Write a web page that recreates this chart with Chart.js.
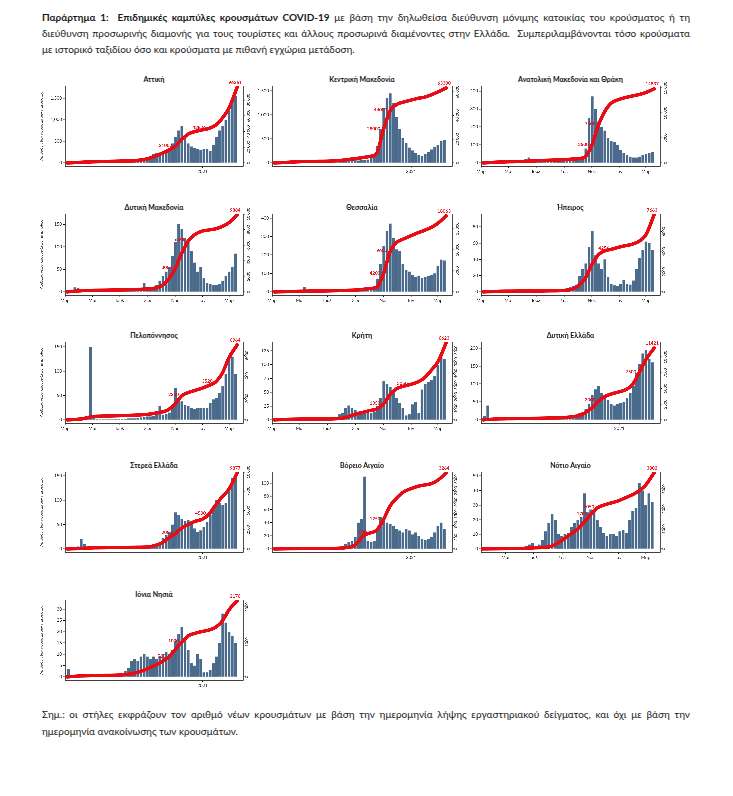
<!DOCTYPE html>
<html lang="el">
<head>
<meta charset="utf-8">
<script src="https://cdn.jsdelivr.net/npm/chart.js@4.4.1/dist/chart.umd.min.js"></script>
<style>
  body { margin: 0; background: #fff; font-family: Lato, "Open Sans", sans-serif; }
  #page { position: relative; width: 733px; height: 796px; overflow: hidden; }
  .txt { position: absolute; left: 42px; width: 648px; font-size: 10px; line-height: 16px; color: #1a1a1a; white-space: nowrap; }
  .just { text-align: justify; text-align-last: justify; }
  .ptitle { position: absolute; font-weight: 700; font-size: 7px; line-height: 10px; text-align: center; color: #111; white-space: nowrap; }
  canvas { position: absolute; }
</style>
</head>
<body>
<div id="page">
  <div class="txt just" style="top:9px"><b>Παράρτημα 1:&nbsp; Επιδημικές καμπύλες κρουσμάτων COVID-19</b> με βάση την δηλωθείσα διεύθυνση μόνιμης κατοικίας του κρούσματος ή τη</div>
  <div class="txt just" style="top:25px">διεύθυνση προσωρινής διαμονής για τους τουρίστες και άλλους προσωρινά διαμένοντες στην Ελλάδα.&nbsp; Συμπεριλαμβάνονται τόσο κρούσματα</div>
  <div class="txt" style="top:41px">με ιστορικό ταξιδίου όσο και κρούσματα με πιθανή εγχώρια μετάδοση.</div>
  <div class="txt just" style="top:706px">Σημ.: οι στήλες εκφράζουν τον αριθμό νέων κρουσμάτων με βάση την ημερομηνία λήψης εργαστηριακού δείγματος, και όχι με βάση την</div>
  <div class="txt" style="top:723px">ημερομηνία ανακοίνωσης των κρουσμάτων.</div>
</div>
<script>
// days counted from 1 March 2020; one bar per week (typical daily count that week)
var weekDays = [8,15,22,29,36,43,50,57,64,71,78,85,92,99,106,113,120,127,134,141,148,155,162,169,176,183,190,197,204,211,218,225,232,239,246,253,260,267,274,281,288,295,302,309,316,323,330,337,344,351,358,365,372,379];
var cumDays = [5,35,65,95,125,155,185,200,215,230,245,260,275,290,305,320,335,350,365,383];

var monthTickDays = [0, 61, 122, 184, 245, 306, 365];
var monthTickLabels = ['Μαρ', 'Μαΐ', 'Ιουλ', 'Σεπ', 'Νοε', 'Ιαν', 'Μαρ'];
var yearTickDays = [306];
var yearTickLabels = ['2021'];

var atticaCases = [5,15,25,35,40,30,20,12,8,6,5,6,6,8,10,12,12,15,20,30,40,60,80,100,120,130,150,200,230,240,250,270,350,450,600,750,850,650,450,380,350,320,300,330,320,280,420,600,750,850,1000,1200,1450,1550];
var atticaCum = [0,800,1500,1900,2300,2900,5500,8500,12000,16000,21000,30000,37000,40000,42000,43826,48000,57000,70000,96261];

var kmCases = [3,15,25,30,25,20,12,8,6,5,4,3,3,3,4,5,6,8,12,20,30,40,45,55,60,55,50,55,60,70,100,150,350,700,1150,1350,1450,1250,950,700,520,420,320,260,200,160,150,180,230,280,330,380,450,480];
var kmCum = [0,500,1100,1300,1500,2300,3700,4500,5500,8000,28000,44000,49500,51500,53000,54500,55500,57500,60000,63300];

var amthCases = [2,5,6,5,4,3,3,2,2,2,3,5,8,20,30,15,8,8,10,10,12,12,12,15,15,15,12,15,15,18,20,30,80,250,370,300,230,200,180,140,120,115,100,70,55,45,35,30,30,35,45,50,55,60];
var amthCum = [0,150,250,300,450,550,650,750,850,1200,3500,7600,10500,12100,12700,13100,13400,13700,14100,14837];

var dmCases = [2,5,10,8,4,3,2,2,2,2,2,2,2,2,2,3,3,3,3,4,4,4,5,8,20,6,8,10,15,25,35,45,55,80,110,150,140,120,110,90,65,45,55,30,20,18,15,15,18,25,35,45,55,85];
var dmCum = [0,150,200,220,250,300,380,480,800,1600,3000,5000,6600,7400,7800,7950,8100,8400,8900,9884];

var thesCases = [1,2,3,5,10,5,3,5,8,25,8,3,2,2,2,2,2,3,3,4,5,5,6,8,10,10,12,15,20,25,25,30,70,150,250,330,370,290,230,220,150,120,110,90,80,85,75,80,85,90,100,140,175,170];
var thesCum = [0,80,150,200,250,320,450,600,800,1100,4200,9600,11800,12600,13300,14000,14600,15300,16300,18063];

var ipeCases = [0,1,1,1,1,1,1,0,0,0,1,1,1,2,4,2,1,1,1,1,1,2,2,2,3,4,5,6,7,9,20,28,35,55,75,45,35,28,40,18,10,8,7,10,15,10,9,14,28,42,52,62,60,52];
var ipeCum = [0,50,70,80,90,110,150,250,600,1300,2700,3700,4100,4256,4450,4600,4750,5050,5700,7663];

var pelCases = [1,2,3,3,3,3,5,150,5,2,1,1,1,1,1,2,2,2,2,3,3,3,4,5,6,7,7,8,12,28,10,12,15,30,65,45,38,30,28,25,22,24,25,24,25,35,42,45,55,70,95,125,130,95];
var pelCum = [0,80,320,360,400,440,520,620,720,950,1500,2250,2550,2750,2950,3200,3520,4350,5800,6964];

var kriCases = [0,1,2,2,2,1,1,1,0,0,0,0,0,1,1,1,1,2,3,5,10,13,22,26,22,18,14,12,12,13,12,15,25,40,70,65,60,50,40,30,22,8,10,28,32,12,55,65,68,72,80,100,120,110];
var kriCum = [0,50,70,70,80,150,500,650,800,930,1350,2200,2700,2900,3050,3250,3600,4250,5000,6623];

var deCases = [10,40,5,5,4,3,2,2,1,1,1,1,1,1,2,2,2,2,3,3,4,4,5,6,6,7,8,9,10,14,20,22,30,45,70,85,95,75,65,55,45,40,45,48,50,60,75,95,130,155,185,195,170,160];
var deCum = [0,150,200,220,250,300,380,480,650,1100,1900,3000,3750,4150,4450,4800,5600,7500,9600,11421];

var stCases = [1,2,3,5,20,10,4,3,2,2,2,2,2,2,2,2,2,2,3,3,3,3,4,4,5,6,8,8,10,15,22,28,35,50,75,70,62,58,60,55,42,35,38,45,55,70,80,100,95,90,95,125,145,145];
var stCum = [0,60,150,170,190,210,250,450,750,1400,2000,2700,3200,3600,3850,4500,5700,6800,7800,9877];

var vaCases = [0,1,1,1,1,0,0,0,0,0,0,0,0,0,0,0,0,1,1,1,2,4,8,10,12,18,40,45,110,12,10,12,30,48,42,40,38,35,30,28,25,30,28,22,25,20,15,14,15,18,25,35,40,30];
var vaCum = [0,10,15,18,20,40,200,560,680,800,1250,1850,2200,2450,2580,2680,2740,2800,2950,3264];

var naCases = [0,1,1,1,1,1,0,0,0,0,0,0,0,1,2,3,4,2,3,6,12,18,24,20,10,9,10,11,15,18,20,22,38,25,27,25,20,15,11,9,10,10,9,12,13,11,20,26,28,45,40,30,38,32];
var naCum = [0,10,15,20,60,100,450,700,950,1300,1700,2050,2200,2300,2400,2550,2700,2900,3200,3802];

var ionCases = [3.5,1,0.5,0.5,0.5,0.5,0.5,0.5,0.5,0.3,0.3,0.3,0.3,0.3,0.3,0.3,0.5,1,2.5,4,7,8,7,9,10,9,8,9,8,9,10,11,10,12,16,19,22,17,12,6,5,10,8,2,2,3,6,9,15,28,24,20,18,15];
var ionCum = [0,30,40,45,55,110,240,330,430,560,780,1000,1180,1250,1300,1340,1420,1600,1920,2176];

var yTitle = 'Αριθμός νέων κρουσμάτων ημερησίως';

var rowTop = [86, 214, 342, 472, 600];
var rowBottom = [166, 295, 423, 552, 680];
var rowTitle = [79, 207, 335, 465, 594];
var colLeft = [65, 272, 481];
var colRight = [243, 452, 660];

var barColor = '#4b6b8c';
var lineColor = 'rgb(232,12,20)';

var panels = [
    {name: 'Αττική', r: 0, c: 0, cases: atticaCases, cum: atticaCum, lmax: 1780, lstep: 500, rmax: 97800, rstep: 20000, months: false, marks: [10, 15, 19]},
    {name: 'Κεντρική Μακεδονία', r: 0, c: 1, cases: kmCases, cum: kmCum, lmax: 1604, lstep: 500, rmax: 65000, rstep: 20000, months: false, marks: [10, 11, 19]},
    {name: 'Ανατολική Μακεδονία και Θράκη', r: 0, c: 2, cases: amthCases, cum: amthCum, lmax: 428, lstep: 100, rmax: 15400, rstep: 5000, months: true, marks: [10, 11, 19]},
    {name: 'Δυτική Μακεδονία', r: 1, c: 0, cases: dmCases, cum: dmCum, lmax: 173, lstep: 50, rmax: 10000, rstep: 2000, months: true, marks: [10, 12, 19]},
    {name: 'Θεσσαλία', r: 1, c: 1, cases: thesCases, cum: thesCum, lmax: 422, lstep: 100, rmax: 18500, rstep: 5000, months: true, marks: [10, 11, 19]},
    {name: 'Ήπειρος', r: 1, c: 2, cases: ipeCases, cum: ipeCum, lmax: 96, lstep: 20, rmax: 7750, rstep: 1000, months: true, marks: [13, 19]},
    {name: 'Πελοπόννησος', r: 2, c: 0, cases: pelCases, cum: pelCum, lmax: 160, lstep: 50, rmax: 7240, rstep: 1000, months: true, marks: [11, 16, 19]},
    {name: 'Κρήτη', r: 2, c: 1, cases: kriCases, cum: kriCum, lmax: 141, lstep: 25, rmax: 6700, rstep: 1000, months: true, marks: [10, 14, 19]},
    {name: 'Δυτική Ελλάδα', r: 2, c: 2, cases: deCases, cum: deCum, lmax: 217, lstep: 50, rmax: 12380, rstep: 2500, months: false, marks: [11, 17, 19]},
    {name: 'Στερεά Ελλάδα', r: 3, c: 0, cases: stCases, cum: stCum, lmax: 158, lstep: 50, rmax: 10000, rstep: 2500, months: false, marks: [10, 15, 19]},
    {name: 'Βόρειο Αιγαίο', r: 3, c: 1, cases: vaCases, cum: vaCum, lmax: 117, lstep: 20, rmax: 3300, rstep: 500, months: false, marks: [8, 10, 19]},
    {name: 'Νότιο Αιγαίο', r: 3, c: 2, cases: naCases, cum: naCum, lmax: 52.7, lstep: 10, rmax: 3850, rstep: 1000, months: true, xmin: 8, marks: [10, 11, 19]},
    {name: 'Ιόνια Νησιά', r: 4, c: 0, cases: ionCases, cum: ionCum, lmax: 34, lstep: 5, rmax: 2200, rstep: 1000, months: false, marks: [9, 11, 19]}
];

function fmtRight(v) {
    if (v < 10000) return String(v);
    return String(v).replace(/\B(?=(\d{3})+(?!\d))/g, ' ');
}

function stepTicks(max, step) {
    var t = [];
    for (var v = 0; v <= max + 1e-9; v += step) t.push({value: v});
    return t;
}

var lineLabels = {
    id: 'lineLabels',
    afterDatasetsDraw: function (chart, args, opts) {
        var meta = chart.getDatasetMeta(1);
        var data = chart.data.datasets[1].data;
        var ctx = chart.ctx;
        var last = data.length - 1;
        ctx.save();
        ctx.fillStyle = lineColor;
        ctx.font = 'bold 4.6px Lato';
        opts.marks.forEach(function (i) {
            var pt = meta.data[i];
            if (i === last) {
                ctx.textAlign = 'center';
                ctx.textBaseline = 'bottom';
                ctx.fillText(String(data[i].y), pt.x - 2, pt.y - 2.5);
            } else {
                ctx.textAlign = 'right';
                ctx.textBaseline = 'middle';
                ctx.fillText(String(data[i].y), pt.x - 3, pt.y - 1);
            }
        });
        ctx.restore();
    }
};

var page = document.getElementById('page');

panels.forEach(function (p) {
    var L = colLeft[p.c], R = colRight[p.c], T = rowTop[p.r], B = rowBottom[p.r];
    var leftW = 26, rightW = 14, padTop = 8, xH = 14;

    var t = document.createElement('div');
    t.className = 'ptitle';
    t.style.left = L + 'px';
    t.style.width = (R - L) + 'px';
    t.style.top = (rowTitle[p.r] - 5) + 'px';
    t.textContent = p.name;
    page.appendChild(t);

    var cv = document.createElement('canvas');
    var w = R - L + leftW + rightW, h = B - T + padTop + xH;
    cv.width = w;
    cv.height = h;
    cv.style.left = (L - leftW) + 'px';
    cv.style.top = (T - padTop) + 'px';
    page.appendChild(cv);

    var tickDays = p.months ? monthTickDays : yearTickDays;
    var tickLabels = p.months ? monthTickLabels : yearTickLabels;
    var xmin = p.xmin || 0;

    new Chart(cv, {
        data: {
            datasets: [{
                type: 'bar',
                data: weekDays.map(function (d, i) { return {x: d, y: p.cases[i]}; }),
                backgroundColor: barColor,
                yAxisID: 'y',
                order: 2,
                barPercentage: 0.86,
                categoryPercentage: 1
            }, {
                type: 'line',
                data: cumDays.map(function (d, i) { return {x: d, y: p.cum[i]}; }),
                borderColor: lineColor,
                borderWidth: 3.5,
                pointRadius: 0,
                cubicInterpolationMode: 'monotone',
                borderCapStyle: 'round',
                yAxisID: 'y2',
                order: 1
            }]
        },
        options: {
            responsive: false,
            animation: false,
            devicePixelRatio: 3,
            layout: {padding: {top: padTop, left: 0, right: 0, bottom: 0}},
            plugins: {
                legend: {display: false},
                tooltip: {enabled: false},
                lineLabels: {marks: p.marks}
            },
            scales: {
                x: {
                    type: 'linear',
                    offset: false,
                    bounds: 'data',
                    min: xmin,
                    max: 396,
                    afterFit: function (s) { s.height = xH; },
                    afterBuildTicks: function (s) {
                        s.ticks = tickDays.filter(function (d) { return d >= xmin; }).map(function (d) { return {value: d}; });
                    },
                    ticks: {
                        autoSkip: false,
                        maxRotation: 0,
                        padding: 1,
                        color: '#222',
                        font: {size: 4.5, family: 'Lato'},
                        callback: function (v) { return tickLabels[tickDays.indexOf(v)]; }
                    },
                    grid: {offset: false, drawOnChartArea: false, tickLength: 2, color: '#000', lineWidth: 0.6},
                    border: {color: '#000', width: 0.8}
                },
                y: {
                    position: 'left',
                    min: -0.04 * p.lmax,
                    max: p.lmax,
                    afterFit: function (s) { s.width = leftW; },
                    afterBuildTicks: function (s) { s.ticks = stepTicks(p.lmax, p.lstep); },
                    ticks: {padding: 1, color: '#222', font: {size: 4.5, family: 'Lato'}},
                    grid: {drawOnChartArea: false, tickLength: 2, color: '#000', lineWidth: 0.6},
                    border: {color: '#000', width: 0.8},
                    title: {display: p.c === 0, text: yTitle, color: '#333', font: {size: 4, family: 'Lato'}, padding: 0}
                },
                y2: {
                    position: 'right',
                    min: -0.04 * p.rmax,
                    max: p.rmax,
                    afterFit: function (s) { s.width = rightW; },
                    afterBuildTicks: function (s) { s.ticks = stepTicks(p.rmax, p.rstep); },
                    ticks: {
                        minRotation: 90,
                        maxRotation: 90,
                        crossAlign: 'center',
                        padding: -3,
                        color: '#222',
                        font: {size: 4, family: 'Lato'},
                        callback: function (v) { return fmtRight(v); }
                    },
                    grid: {drawOnChartArea: false, tickLength: 2, color: '#000', lineWidth: 0.6},
                    border: {color: '#000', width: 0.8}
                }
            }
        },
        plugins: [lineLabels]
    });
});
</script>
</body>
</html>
